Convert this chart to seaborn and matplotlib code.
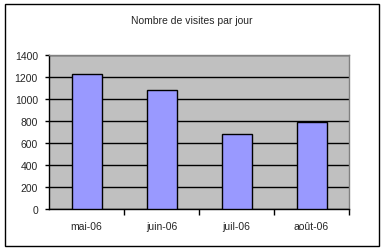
import matplotlib
matplotlib.use("Agg")
import matplotlib.pyplot as plt
import seaborn as sns
import pandas as pd
from matplotlib.patches import Rectangle
from matplotlib.ticker import FixedLocator

months = ["mai-06", "juin-06", "juil-06", "août-06"]
visits = [1224, 1079, 679, 788]
yticks = [0, 200, 400, 600, 800, 1000, 1200, 1400]
title = "Nombre de visites par jour"

sns.set_style("white")
plt.rcParams["font.family"] = ["Liberation Sans", "DejaVu Sans"]

df = pd.DataFrame({"mois": months, "visites": visits})

fig = plt.figure(figsize=(3.84, 2.51), dpi=100)
ax = fig.add_axes([49/384, 1-210/251, 300/384, 154/251])
ax.set_facecolor("#C0C0C0")

sns.barplot(data=df, x="mois", y="visites", color="#9999FF", saturation=1,
            width=0.4, edgecolor="black", linewidth=1, ax=ax, zorder=3)

ax.set_ylim(0, 1400)
ax.set_xlim(-0.5, 3.5)
ax.set_yticks(yticks)
ax.set_yticklabels([str(v) for v in yticks], fontsize=7.5)
ax.yaxis.grid(True, color="black", linewidth=1)
ax.set_axisbelow(True)
ax.set_xlabel("")
ax.set_ylabel("")
ax.tick_params(axis="y", left=True, length=3, width=1, color="black", pad=5)
ax.tick_params(axis="x", which="major", length=0, pad=9, labelsize=7.5)
ax.xaxis.set_minor_locator(FixedLocator([0.5, 1.5, 2.5, 3.5]))
ax.tick_params(axis="x", which="minor", bottom=True, length=4, width=1, color="black")

for side in ["left", "bottom"]:
    ax.spines[side].set_color("black")
    ax.spines[side].set_linewidth(1)
for side in ["top", "right"]:
    ax.spines[side].set_color("#808080")
    ax.spines[side].set_linewidth(1)

fig.text(191.5/384, 1-21/251, title, ha="center", va="center", fontsize=7.5)

fig.patches.append(Rectangle((5/384, 4/251), 374/384, 242/251,
                             transform=fig.transFigure, fill=False,
                             edgecolor="black", linewidth=1))

fig.savefig("out.png", dpi=100)
